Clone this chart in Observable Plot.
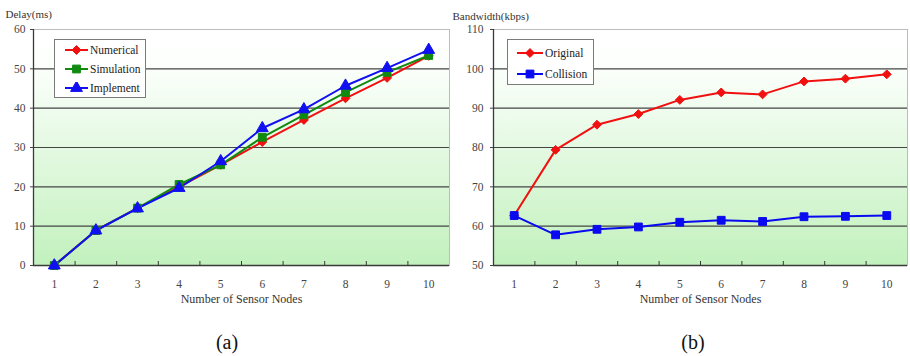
<!DOCTYPE html>
<html><head><meta charset="utf-8">
<script src="https://cdn.jsdelivr.net/npm/d3@7"></script>
<script src="https://cdn.jsdelivr.net/npm/@observablehq/plot@0.6"></script>
<style>
body{margin:0;background:#fff;}
#wrap{position:relative;width:910px;height:356px;overflow:hidden;font-family:"Liberation Serif",serif;}
.panel{position:absolute;top:0;}
svg.panel, svg.panel text{font-family:"Liberation Serif",serif !important;}
.legend{position:absolute;background:#fff;border:1px solid #7a7a7a;box-sizing:border-box;font-size:11.5px;color:#222;font-family:"Liberation Serif",serif;}
.legend .row{display:flex;align-items:center;}
.legend svg{display:block;}
.cap{position:absolute;font-size:20px;color:#111;transform:translate(-50%,-50%);white-space:nowrap;font-family:"Liberation Serif",serif;}
</style></head><body><div id="wrap"></div>
<script>
// ---- data ----
const nodes = [1, 2, 3, 4, 5, 6, 7, 8, 9, 10];
const numerical  = [0, 8.9, 14.6, 20.0, 25.6, 31.4, 37.0, 42.5, 47.7, 53.3];
const simulation = [0, 8.9, 14.6, 20.6, 25.6, 32.6, 38.3, 44.0, 49.1, 53.4];
const implement  = [0, 8.9, 14.5, 19.7, 26.5, 34.9, 39.7, 45.7, 50.2, 54.8];
const original   = [62.7, 79.4, 85.8, 88.5, 92.1, 94.0, 93.5, 96.8, 97.5, 98.6];
const collision  = [62.7, 57.8, 59.2, 59.8, 61.0, 61.5, 61.2, 62.4, 62.5, 62.7];
const delayTicks = [0, 10, 20, 30, 40, 50, 60];
const bwTicks    = [50, 60, 70, 80, 90, 100, 110];
const xTitle = "Number of Sensor Nodes";
const delayTitle = "Delay(ms)";
const bwTitle = "Bandwidth(kbps)";
const seriesA = [
  {name: "Numerical", values: numerical, color: "#f01010", symbol: "diamond2"},
  {name: "Simulation", values: simulation, color: "#108a10", symbol: "square"},
  {name: "Implement", values: implement, color: "#1010f0", symbol: "triangle"}
];
const seriesB = [
  {name: "Original", values: original, color: "#f01010", symbol: "diamond2"},
  {name: "Collision", values: collision, color: "#0a0af0", symbol: "square"}
];
const captions = ["(a)", "(b)"];

const wrap = document.getElementById("wrap");
const H = 312, MT = 29, MB = 47;

function panel(o) {
  const rows = o.series.flatMap(s => nodes.map((n, i) => ({node: n, value: s.values[i], name: s.name})));
  const x0 = nodes[0] - 0.5, x1 = nodes[nodes.length - 1] + 0.5;
  const bounds = nodes.slice(0, -1).map(n => n + 0.5);
  const ymin = o.yDomain[0];
  const marks = [
    Plot.frame({fill: `url(#${o.gid})`, stroke: "#bcbcbc"}),
    Plot.ruleY(o.yTicks.slice(1, -1), {stroke: "#454545", strokeWidth: 1.1}),
    Plot.ruleY([ymin], {stroke: "#3a3a3a", strokeWidth: 1.3}),
    Plot.ruleX([x0], {stroke: "#3a3a3a", strokeWidth: 1.3}),
    Plot.ruleX(bounds, {x: d => d, y1: ymin, y2: ymin, insetTop: -4, stroke: "#3a3a3a"})
  ];
  for (const s of o.series) {
    const d = rows.filter(r => r.name === s.name);
    marks.push(Plot.line(d, {x: "node", y: "value", stroke: s.color, strokeWidth: 2}));
  }
  for (const s of o.series) {
    const d = rows.filter(r => r.name === s.name);
    marks.push(Plot.dot(d, {x: "node", y: "value", symbol: s.symbol, fill: s.color, stroke: s.color, strokeWidth: 1, r: s.symbol === "diamond2" ? 4 : 4.4}));
  }
  marks.push(Plot.text([o.yTitle], {text: d => d, frameAnchor: "top-left", dx: o.titleDx, dy: o.titleDy, textAnchor: "start", fontSize: 11, fill: "#333"}));
  marks.push(Plot.text([xTitle], {text: d => d, frameAnchor: "bottom", dy: 37, fontSize: 12, fill: "#333"}));
  const svg = Plot.plot({
    width: o.width, height: H,
    marginLeft: o.mL, marginRight: o.mR, marginTop: MT, marginBottom: MB,
    style: {fontFamily: "'Liberation Serif', serif", fontSize: "11.5px", color: "#444", background: "transparent"},
    x: {domain: [x0, x1], ticks: nodes, tickSize: 0, tickPadding: 14, label: null, tickFormat: d => String(d)},
    y: {domain: o.yDomain, ticks: o.yTicks, tickSize: 3, tickPadding: o.tickPad, label: null},
    marks
  });
  d3.select(svg).insert("defs", ":first-child").html(
    `<linearGradient id="${o.gid}" x1="0" y1="0" x2="0" y2="1">
       <stop offset="0" stop-color="#ffffff"/>
       <stop offset="0.15" stop-color="#fcfffc"/>
       <stop offset="1" stop-color="#c2f1bd"/>
     </linearGradient>`);
  svg.classList.add("panel");
  svg.style.left = o.left + "px";
  wrap.appendChild(svg);

  // legend
  const lg = document.createElement("div");
  lg.className = "legend";
  Object.assign(lg.style, {left: o.lg.x + "px", top: o.lg.y + "px", width: o.lg.w + "px", height: o.lg.h + "px", paddingLeft: o.lg.pl + "px", paddingTop: o.lg.pt + "px"});
  for (const s of o.series) {
    const row = document.createElement("div");
    row.className = "row";
    row.style.height = o.lg.rh + "px";
    const sw = d3.create("svg").attr("width", o.lg.sw).attr("height", 12);
    sw.append("line").attr("x1", 0).attr("x2", o.lg.sw - 2).attr("y1", 6).attr("y2", 6).attr("stroke", s.color).attr("stroke-width", 2);
    const sym = s.symbol === "diamond2" ? d3.symbolDiamond2 : s.symbol === "square" ? d3.symbolSquare : d3.symbolTriangle;
    const r = s.symbol === "diamond2" ? 4 : 4.4;
    sw.append("path").attr("transform", `translate(${(o.lg.sw - 2) / 2},6)`).attr("d", d3.symbol(sym, Math.PI * r * r)()).attr("fill", s.color).attr("stroke", s.color);
    row.appendChild(sw.node());
    const t = document.createElement("span");
    t.textContent = s.name;
    row.appendChild(t);
    lg.appendChild(row);
  }
  wrap.appendChild(lg);

  const cap = document.createElement("div");
  cap.className = "cap";
  cap.textContent = o.caption;
  cap.style.left = o.capX + "px";
  cap.style.top = "342px";
  wrap.appendChild(cap);
}

panel({left: 0, width: 455, mL: 33, mR: 6, yDomain: [0, 60], yTicks: delayTicks, tickPad: 5,
  yTitle: delayTitle, titleDx: -28, titleDy: -19, series: seriesA, gid: "gA",
  lg: {x: 54, y: 39, w: 92, h: 59, pl: 10, pt: 0, rh: 19, sw: 25}, caption: captions[0], capX: 227});
panel({left: 445, width: 465, mL: 48, mR: 3, yDomain: [50, 110], yTicks: bwTicks, tickPad: 7,
  yTitle: bwTitle, titleDx: -41, titleDy: -17, series: seriesB, gid: "gB",
  lg: {x: 507, y: 39, w: 87, h: 46, pl: 9, pt: 2, rh: 21, sw: 28}, caption: captions[1], capX: 693});
</script></body></html>
